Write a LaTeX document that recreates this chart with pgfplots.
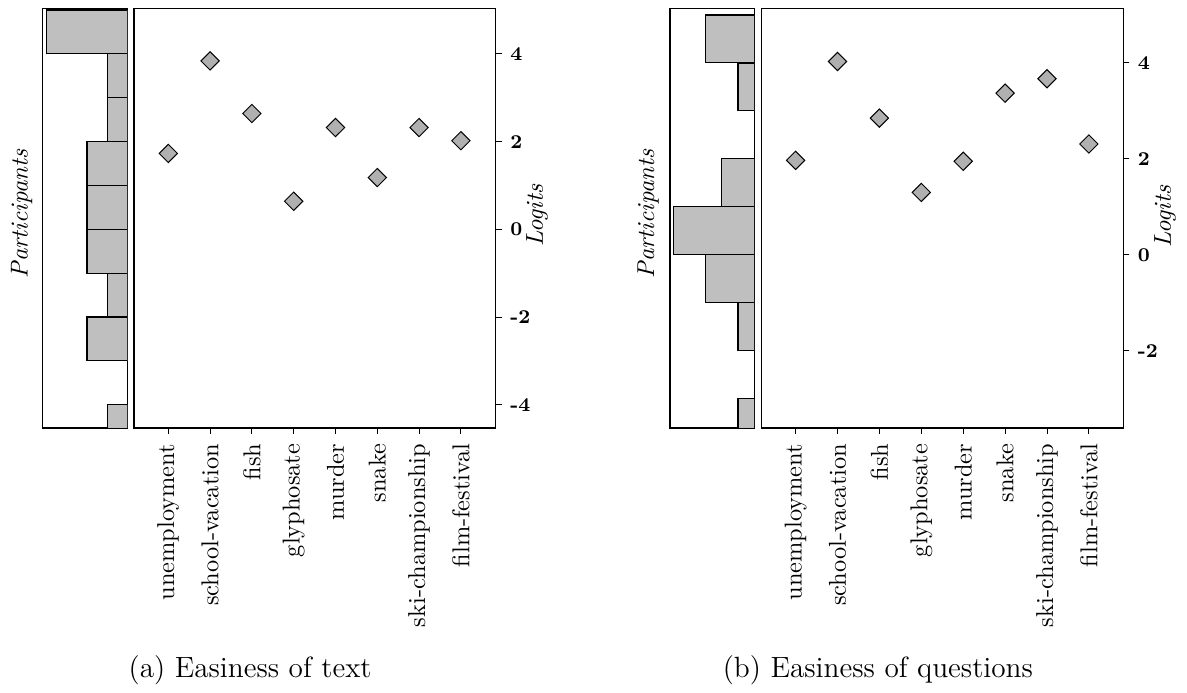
\documentclass[border=0pt]{standalone}
\usepackage{pgfplots}
\pgfplotsset{compat=1.18}
\begin{document}
\begin{tikzpicture}
\pgfplotsset{
  hist/.style={scale only axis, anchor=south west, height=172pt,
    xtick=\empty, ytick=\empty, x dir=reverse, xmin=0,
    xbar, bar width=1, bar shift=0pt, axis line style={line width=0.5pt}},
  main/.style={scale only axis, anchor=south west, width=148.2pt, height=172pt,
    xtick={0,...,7},
    xticklabels={unemployment,school-vacation,fish,glyphosate,murder,snake,ski-championship,film-festival},
    xticklabel style={rotate=90, anchor=east, font=\normalsize, inner xsep=3.8pt},
    xtick pos=left, ytick pos=right, yticklabel pos=right, tick align=outside,
    major tick length=2.5pt, tick style={black, line width=0.4pt},
    ytick={-4,-2,0,2,4}, yticklabels={-4,-2,0,2,4},
    yticklabel style={font=\footnotesize\bfseries},
    axis line style={line width=0.5pt}},
  dmd/.style={only marks, mark=square*, mark size=2.65pt,
    mark options={rotate=45, fill=gray!62, draw=black, line width=0.4pt}},
  bars/.style={draw=black, fill=lightgray, line width=0.45pt},
}
% ---------- (a) ----------
\begin{axis}[hist, at={(17.34pt,108.6pt)}, width=35pt, xmax=4.2, ymin=-4.53, ymax=5.04]
\addplot[bars] coordinates {(1,-4.5) (2,-2.5) (1,-1.5) (2,-0.5) (2,0.5) (2,1.5) (1,2.5) (1,3.5) (4,4.5)};
\end{axis}
\begin{axis}[main, at={(54.92pt,108.6pt)}, xmin=-0.82, xmax=7.83, ymin=-4.53, ymax=5.04]
\addplot[dmd] coordinates {(0,1.73) (1,3.84) (2,2.64) (3,0.64) (4,2.32) (5,1.18) (6,2.32) (7,2.02)};
\end{axis}
% ---------- (b) ----------
\begin{axis}[hist, at={(274.6pt,108.6pt)}, width=34.5pt, xmax=5.2, ymin=-3.61, ymax=5.14]
\addplot[bars] coordinates {(1,-3.5) (1,-1.5) (3,-0.5) (5,0.5) (2,1.5) (1,3.5) (3,4.5)};
\end{axis}
\begin{axis}[main, at={(312.17pt,108.6pt)}, xmin=-0.81, xmax=7.82, ymin=-3.61, ymax=5.14]
\addplot[dmd] coordinates {(0,1.97) (1,4.03) (2,2.85) (3,1.30) (4,1.95) (5,3.37) (6,3.67) (7,2.31)};
\end{axis}
% labels
\node[rotate=90, font=\itshape] at (8.9pt,196.3pt) {Participants};
\node[rotate=90, font=\itshape] at (265.6pt,196.3pt) {Participants};
\node[rotate=90, font=\itshape] at (220.1pt,195.5pt) {Logits};
\node[rotate=90, font=\itshape] at (477.5pt,195.2pt) {Logits};
\node[font=\large] at (102.5pt,9.4pt) {(a) Easiness of text};
\node[font=\large] at (359.8pt,9.4pt) {(b) Easiness of questions};
\pgfresetboundingbox
\path[use as bounding box] (0,0) rectangle (486.5pt,284pt);
\end{tikzpicture}
\end{document}
